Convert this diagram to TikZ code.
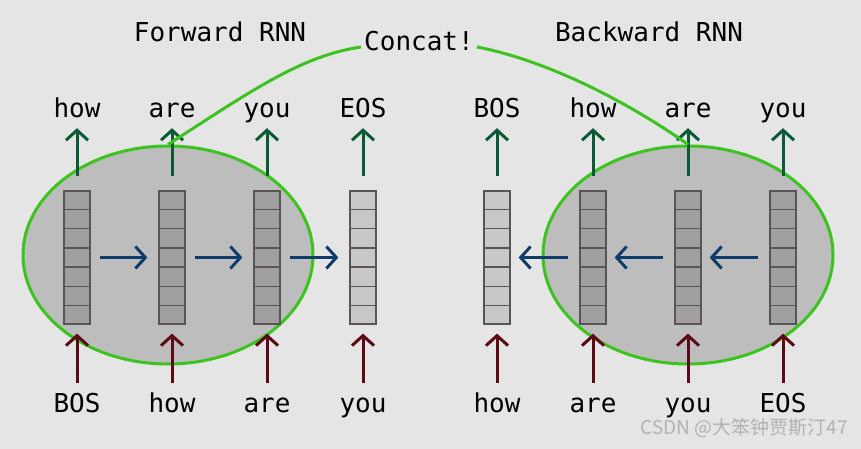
\documentclass[tikz,border=0pt]{standalone}
\usepackage{fontspec}
\setmonofont{DejaVu Sans Mono}
\newfontfamily\cjk{Noto Sans CJK SC}
\usetikzlibrary{arrows.meta,shapes.geometric,calc}

\definecolor{bggray}{HTML}{E5E5E5}
\definecolor{rnnfill}{HTML}{BDBDBD}
\definecolor{darkcell}{HTML}{A0A0A0}
\definecolor{lightcell}{HTML}{C8C8C8}
\definecolor{cellline}{HTML}{5A5555}
\definecolor{concatgreen}{HTML}{3CC320}
\definecolor{outgreen}{HTML}{0B5A36}
\definecolor{inred}{HTML}{5C0A16}
\definecolor{hidblue}{HTML}{0E3C6A}

\tikzset{
	word/.style={font=\ttfamily\fontsize{26}{26}\selectfont, text height=18pt, text depth=6pt, inner sep=0pt, anchor=base},
	cellcol/.style={draw=cellline, line width=1.2pt, minimum width=26pt, minimum height=133pt, inner sep=0pt},
	rnn/.style={shape=ellipse, draw=concatgreen, fill=rnnfill, line width=3pt, minimum width=290pt, minimum height=218pt},
	tip/.style={-{Straight Barb[length=10pt,width=22pt]}, line width=3pt},
}

\begin{document}
\begin{tikzpicture}[x=1pt, y=-1pt]
	
	\fill[bggray] (0,0) rectangle (861,449);
	\useasboundingbox (0,0) rectangle (861,449);
	
	\node[rnn] (fwd) at (168, 255) {};
	\node[rnn] (bwd) at (688, 255) {};
	
	\node[cellcol, fill=darkcell]  (f1) at (77, 257.5)  {};
	\node[cellcol, fill=darkcell]  (f2) at (172, 257.5) {};
	\node[cellcol, fill=darkcell]  (f3) at (267, 257.5) {};
	\node[cellcol, fill=lightcell] (f4) at (363, 257.5) {};
	\node[cellcol, fill=lightcell] (b1) at (497, 257.5) {};
	\node[cellcol, fill=darkcell]  (b2) at (593, 257.5) {};
	\node[cellcol, fill=darkcell]  (b3) at (688, 257.5) {};
	\node[cellcol, fill=darkcell]  (b4) at (783, 257.5) {};
	
	\foreach \c in {f1,f2,f3,f4,b1,b2,b3,b4}
		\foreach \k in {1,...,6}
			\draw[cellline, line width=1.2pt] ($(\c.north west)!\k/7!(\c.south west)$) -- ($(\c.north east)!\k/7!(\c.south east)$);
	
	% outputs
	\node[word] (fo1) at (77, 118)  {how};
	\node[word] (fo2) at (172, 118) {are};
	\node[word] (fo3) at (267, 118) {you};
	\node[word] (fo4) at (363, 118) {EOS};
	\node[word] (bo1) at (497, 118) {BOS};
	\node[word] (bo2) at (593, 118) {how};
	\node[word] (bo3) at (688, 118) {are};
	\node[word] (bo4) at (783, 118) {you};
	
	% inputs
	\node[word] (fi1) at (77, 412)  {BOS};
	\node[word] (fi2) at (172, 412) {how};
	\node[word] (fi3) at (267, 412) {are};
	\node[word] (fi4) at (363, 412) {you};
	\node[word] (bi1) at (497, 412) {how};
	\node[word] (bi2) at (593, 412) {are};
	\node[word] (bi3) at (688, 412) {you};
	\node[word] (bi4) at (783, 412) {EOS};
	
	\node[word] (ftitle) at (220, 42) {Forward RNN};
	\node[word] (btitle) at (649, 42) {Backward RNN};
	\node[word] (concat) at (419, 51) {Concat!};
	
	\foreach \c/\o in {f1/fo1,f2/fo2,f3/fo3,f4/fo4,b1/bo1,b2/bo2,b3/bo3,b4/bo4}
		\draw[tip, outgreen, shorten <=14pt, shorten >=4pt] (\c.north) -- (\o.south);
	\foreach \c/\i in {f1/fi1,f2/fi2,f3/fi3,f4/fi4,b1/bi1,b2/bi2,b3/bi3,b4/bi4}
		\draw[tip, inred, shorten <=11pt, shorten >=9pt] (\i.north) -- (\c.south);
	
	\draw[tip, hidblue, shorten <=9pt, shorten >=11pt] (f1) -- (f2);
	\draw[tip, hidblue, shorten <=9pt, shorten >=11pt] (f2) -- (f3);
	\draw[tip, hidblue, shorten <=9pt, shorten >=11pt] (f3) -- (f4);
	\draw[tip, hidblue, shorten <=11pt, shorten >=8pt] (b2) -- (b1);
	\draw[tip, hidblue, shorten <=11pt, shorten >=8pt] (b3) -- (b2);
	\draw[tip, hidblue, shorten <=11pt, shorten >=8pt] (b4) -- (b3);
	
	\draw[concatgreen, line width=3pt] (fwd.north) .. controls (250, 92) and (300, 56) .. ([xshift=-3pt, yshift=-2pt]concat.west);
	\draw[concatgreen, line width=3pt] ([xshift=3pt, yshift=-2pt]concat.east) .. controls (545, 60) and (625, 100) .. (bwd.north);
	
	\node[font=\cjk\fontsize{19}{19}\selectfont, text=black!30, anchor=east, inner sep=0pt] (mark) at (848, 428) {CSDN @大笨钟贾斯汀47};
	
\end{tikzpicture}
\end{document}
